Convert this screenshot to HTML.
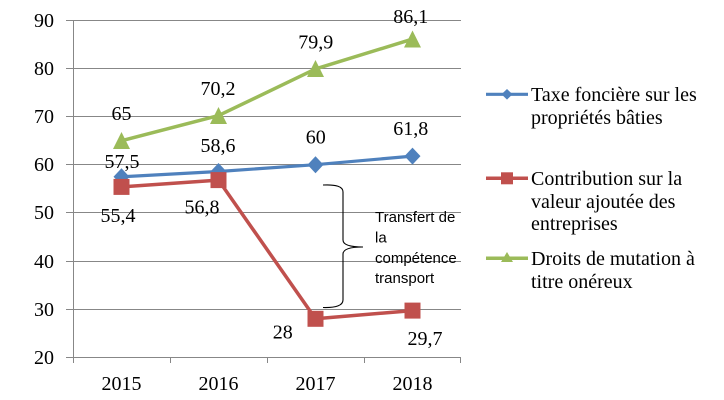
<!DOCTYPE html>
<html><head><meta charset="utf-8"><style>
html,body{margin:0;padding:0;background:#fff;}
svg{display:block;}
.s{font-family:"Liberation Serif",serif;font-size:20px;fill:#000;}
.c{font-family:"Liberation Sans",sans-serif;font-size:15px;fill:#000;}
</style></head><body>
<svg width="724" height="400" viewBox="0 0 724 400" xmlns="http://www.w3.org/2000/svg">
<rect width="724" height="400" fill="#fff"/>
<g stroke="#878787" stroke-width="1" fill="none">
<line x1="66" y1="20.5" x2="461" y2="20.5"/>
<line x1="66" y1="68.5" x2="461" y2="68.5"/>
<line x1="66" y1="116.5" x2="461" y2="116.5"/>
<line x1="66" y1="164.5" x2="461" y2="164.5"/>
<line x1="66" y1="212.5" x2="461" y2="212.5"/>
<line x1="66" y1="261.5" x2="461" y2="261.5"/>
<line x1="66" y1="309.5" x2="461" y2="309.5"/>
<line x1="66" y1="357.5" x2="461" y2="357.5"/>
<line x1="73.5" y1="20" x2="73.5" y2="363"/>
<line x1="170.5" y1="357" x2="170.5" y2="363"/>
<line x1="267.5" y1="357" x2="267.5" y2="363"/>
<line x1="364.5" y1="357" x2="364.5" y2="363"/>
<line x1="460.5" y1="357" x2="460.5" y2="363"/>
</g>
<g class="s" text-anchor="end">
<text x="54" y="27">90</text>
<text x="54" y="75">80</text>
<text x="54" y="123">70</text>
<text x="54" y="171">60</text>
<text x="54" y="219">50</text>
<text x="54" y="268">40</text>
<text x="54" y="316">30</text>
<text x="54" y="364">20</text>
</g>
<g class="s" text-anchor="middle">
<text x="121.5" y="390">2015</text>
<text x="218.5" y="390">2016</text>
<text x="315.5" y="390">2017</text>
<text x="412.5" y="390">2018</text>
</g>
<polyline points="121.5,140.7 218.5,115.6 315.5,68.9 412.5,39.1" fill="none" stroke="#9BBB59" stroke-width="3.5" stroke-linejoin="round"/>
<polyline points="121.5,176.8 218.5,171.5 315.5,164.7 412.5,156.1" fill="none" stroke="#4F81BD" stroke-width="3.2" stroke-linejoin="round"/>
<polyline points="121.5,186.9 218.5,180.1 315.5,318.8 412.5,310.6" fill="none" stroke="#C0504D" stroke-width="3.5" stroke-linejoin="round"/>
<g fill="#9BBB59">
<polygon points="121.5,132 130,149 113,149"/>
<polygon points="218.5,107 227,124 210,124"/>
<polygon points="315.5,60 324,77 307,77"/>
<polygon points="412.5,30.5 421,47.5 404,47.5"/>
</g>
<g fill="#4F81BD">
<polygon points="121.5,168.3 129.5,176.8 121.5,185.3 113.5,176.8"/>
<polygon points="218.5,163 226.5,171.5 218.5,180 210.5,171.5"/>
<polygon points="315.5,156.2 323.5,164.7 315.5,173.2 307.5,164.7"/>
<polygon points="412.5,147.6 420.5,156.1 412.5,164.6 404.5,156.1"/>
</g>
<g fill="#C0504D">
<rect x="113.5" y="178.9" width="16" height="16"/>
<rect x="210.5" y="172.1" width="16" height="16"/>
<rect x="307.5" y="310.8" width="16" height="16"/>
<rect x="404.5" y="302.6" width="16" height="16"/>
</g>
<g class="s" text-anchor="middle">
<text x="121.5" y="120">65</text>
<text x="218" y="95">70,2</text>
<text x="315.7" y="48.5">79,9</text>
<text x="410.7" y="23">86,1</text>
<text x="122" y="168">57,5</text>
<text x="218" y="152">58,6</text>
<text x="315.7" y="143.5">60</text>
<text x="410.7" y="135">61,8</text>
<text x="118" y="222">55,4</text>
<text x="202" y="213.5">56,8</text>
<text x="282.7" y="338.5">28</text>
<text x="425" y="345">29,7</text>
</g>
<path d="M323,185 Q343,184 343,192 L343,240 Q343,247 363,247 Q343,247 343,254 L343,300 Q343,308 323,307.5" fill="none" stroke="#000" stroke-width="1.1"/>
<g class="c">
<text x="375" y="222">Transfert de</text>
<text x="375" y="242.5">la</text>
<text x="375" y="263">compétence</text>
<text x="375" y="283">transport</text>
</g>
<line x1="486" y1="94.3" x2="528" y2="94.3" stroke="#4F81BD" stroke-width="3.2"/>
<polygon points="507,89 512.5,94.3 507,99.6 501.5,94.3" fill="#4F81BD"/>
<line x1="486" y1="178.3" x2="528" y2="178.3" stroke="#C0504D" stroke-width="3.5"/>
<rect x="501" y="172.3" width="12" height="12" fill="#C0504D"/>
<line x1="486" y1="258.3" x2="528" y2="258.3" stroke="#9BBB59" stroke-width="3.5"/>
<polygon points="507,252 513,262 501,262" fill="#9BBB59"/>
<g class="s">
<text x="531" y="101">Taxe foncière sur les</text>
<text x="531" y="124">propriétés bâties</text>
<text x="531" y="185">Contribution sur la</text>
<text x="531" y="208">valeur ajoutée des</text>
<text x="531" y="230">entreprises</text>
<text x="531" y="265">Droits de mutation à</text>
<text x="531" y="288">titre onéreux</text>
</g>
</svg>
</body></html>
